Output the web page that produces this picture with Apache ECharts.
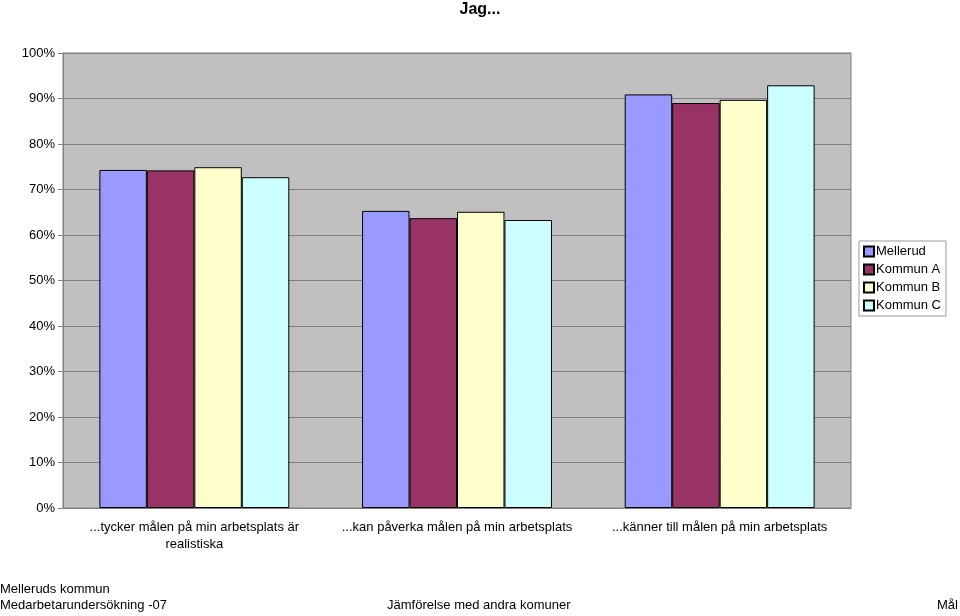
<!DOCTYPE html>
<html><head><meta charset="utf-8">
<script src="https://cdn.jsdelivr.net/npm/echarts@6/dist/echarts.min.js"></script>
<style>html,body{margin:0;padding:0;background:#fff}#c{width:960px;height:616px}</style>
</head><body><div id="c"></div>
<script>
const categories = ["...tycker målen på min arbetsplats är\nrealistiska", "...kan påverka målen på min arbetsplats", "...känner till målen på min arbetsplats"];
const seriesNames = ["Mellerud", "Kommun A", "Kommun B", "Kommun C"];
const mellerud = [74.3, 65.3, 90.9];
const kommunA = [74.2, 63.7, 89.0];
const kommunB = [74.9, 65.1, 89.7];
const kommunC = [72.7, 63.3, 92.9];
const colors = ["#9999FF", "#993366", "#FFFFCC", "#CCFFFF"];
const values = [mellerud, kommunA, kommunB, kommunC];
const font = "Liberation Sans, Arial, sans-serif";

const chart = echarts.init(document.getElementById('c'));
chart.setOption({
  animation: false,
  textStyle: {fontFamily: font},
  title: {text: "Jag...", left: 'center', top: -3, textStyle: {fontSize: 16, fontWeight: 'bold', color: '#000', fontFamily: font}},
  grid: {left: 63, right: 109, top: 53, bottom: 108, show: true, backgroundColor: '#C0C0C0', borderColor: '#808080', borderWidth: 1},
  legend: {
    orient: 'vertical', right: 14, top: 241, itemWidth: 10, itemHeight: 10, itemGap: 5,
    padding: [4, 5, 4, 4], borderColor: '#999', borderWidth: 1, backgroundColor: '#fff',
    icon: 'rect', data: seriesNames,
    textStyle: {fontSize: 13, color: '#000', fontFamily: font, padding: [0, 0, 0, -3]}
  },
  xAxis: {
    type: 'category', data: categories,
    axisLine: {lineStyle: {color: '#808080'}}, axisTick: {show: false},
    axisLabel: {fontSize: 13, color: '#000', interval: 0, margin: 11, lineHeight: 17}
  },
  yAxis: {
    type: 'value', min: 0, max: 100, interval: 10,
    axisLine: {show: true, lineStyle: {color: '#808080'}},
    axisTick: {show: true, length: 5, lineStyle: {color: '#808080'}},
    splitLine: {lineStyle: {color: '#808080'}},
    axisLabel: {formatter: '{value}%', fontSize: 13, color: '#000', margin: 8}
  },
  series: seriesNames.map((n, i) => ({
    name: n, type: 'bar', data: values[i], barGap: '0%', barCategoryGap: '27.7%',
    itemStyle: {color: colors[i], borderColor: '#000', borderWidth: 1}
  })),
  graphic: [
    {type: 'text', left: 0, top: 583, style: {text: "Melleruds kommun", fontSize: 13, fill: '#000', fontFamily: font}},
    {type: 'text', left: 0, top: 599, style: {text: "Medarbetarundersökning -07", fontSize: 13, fill: '#000', fontFamily: font}},
    {type: 'text', left: 387, top: 599, style: {text: "Jämförelse med andra komuner", fontSize: 13, fill: '#000', fontFamily: font}},
    {type: 'text', left: 937, top: 599, style: {text: "Mål", fontSize: 13, fill: '#000', fontFamily: font}}
  ]
});
</script></body></html>
